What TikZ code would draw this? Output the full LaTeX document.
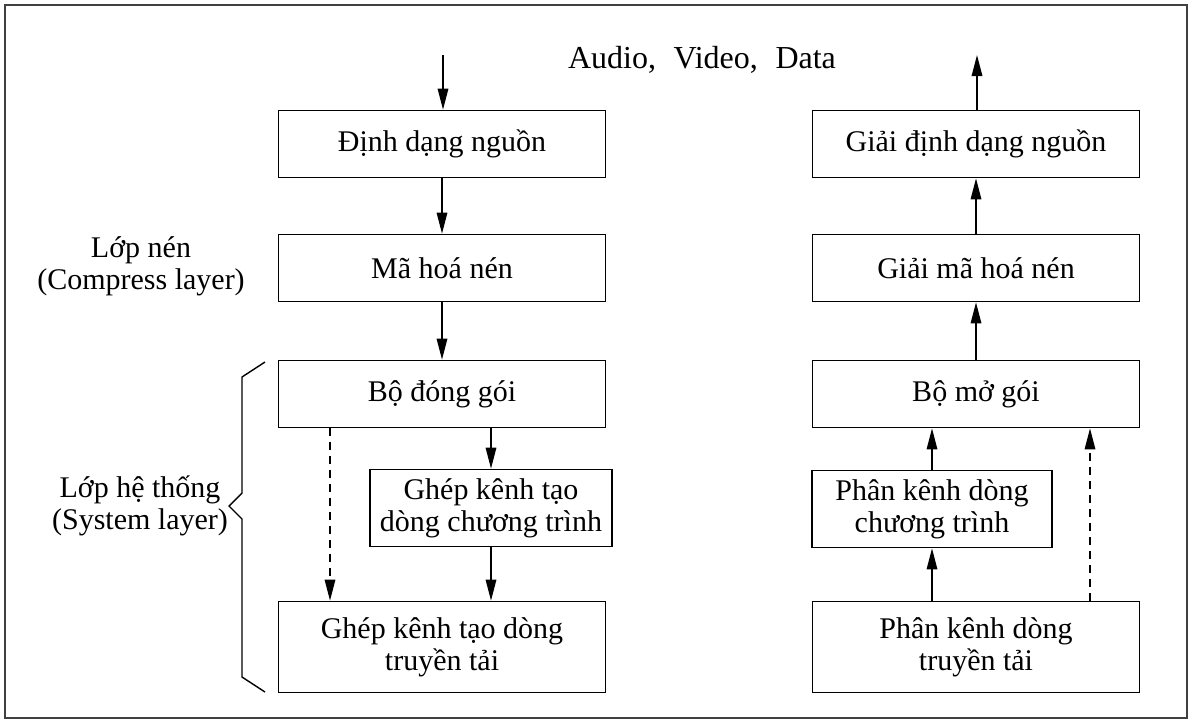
\documentclass[tikz,border=0pt]{standalone}
\usepackage{fontspec}
\setmainfont{Liberation Serif}
\usetikzlibrary{arrows.meta}
\begin{document}
\begin{tikzpicture}[x=1pt,y=-1pt,
  every node/.style={font=\fontsize{30}{32}\selectfont, inner sep=0pt},
  blk/.style={draw, line width=1.7pt, align=center},
  wide/.style={blk, minimum width=327pt, minimum height=67pt},
  tall/.style={blk, minimum width=327pt, minimum height=91pt},
  mid/.style={blk, minimum height=77pt},
  flow/.style={line width=1.6pt, -{Triangle[length=21pt,width=10.5pt]}},
  dflow/.style={flow, dash pattern=on 8pt off 6pt},
  lbl/.style={align=center}]
\useasboundingbox (0,0) rectangle (1193,724);
\draw[line width=1.3pt, black!75] (5,5) rectangle (1187,718);

% sender side
\node[wide] (src)  at (442,144) {Định dạng nguồn};
\node[wide] (enc)  at (442,268) {Mã hoá nén};
\node[wide] (pack) at (442,394) {Bộ đóng gói};
\node[mid, minimum width=242pt] (pmux) at (491,508) {Ghép kênh tạo\\dòng chương trình};
\node[tall] (tmux) at (442,647) {Ghép kênh tạo dòng\\truyền tải};

% receiver side
\node[wide] (dsrc)  at (976,144) {Giải định dạng nguồn};
\node[wide] (dec)   at (976,268) {Giải mã hoá nén};
\node[wide] (upack) at (976,394) {Bộ mở gói};
\node[mid, minimum width=240pt] (pdmx) at (932,509) {Phân kênh dòng\\chương trình};
\node[tall] (tdmx)  at (976,647) {Phân kênh dòng\\truyền tải};

\node[anchor=base, font=\fontsize{32}{34}\selectfont] (io) at (702,68)
  {Audio,\hspace{0.55em}Video,\hspace{0.55em}Data};
\node[lbl] (comp) at (141,266) {Lớp nén\\(Compress layer)};
\node[lbl] (sys)  at (140,506) {Lớp hệ thống\\(System layer)};

\coordinate (in)  at (443,55);
\coordinate (out) at (977,55);

% sender flow
\draw[flow] (in) -- (in |- src.north);
\draw[flow] (src) -- (enc);
\draw[flow] (enc) -- (pack);
\draw[flow] (pack.south -| pmux.north) -- (pmux.north);
\draw[flow] (pmux.south) -- (pmux.south |- tmux.north);
\draw[dflow] (330,0 |- pack.south) -- (330,0 |- tmux.north);

% receiver flow
\draw[flow] (dsrc.north -| out) -- (out);
\draw[flow] (dec) -- (dsrc);
\draw[flow] (upack) -- (dec);
\draw[flow] (pdmx.north) -- (pdmx.north |- upack.south);
\draw[flow] (tdmx.north -| pdmx.south) -- (pdmx.south);
\draw[dflow] (1090,0 |- tdmx.north) -- (1090,0 |- upack.south);

% brace of the system layer
\draw[line width=1.4pt] (265,362) -- (242,377) -- (242,493) -- (229,506)
  -- (242,519) -- (242,677) -- (265,692);
\end{tikzpicture}
\end{document}
